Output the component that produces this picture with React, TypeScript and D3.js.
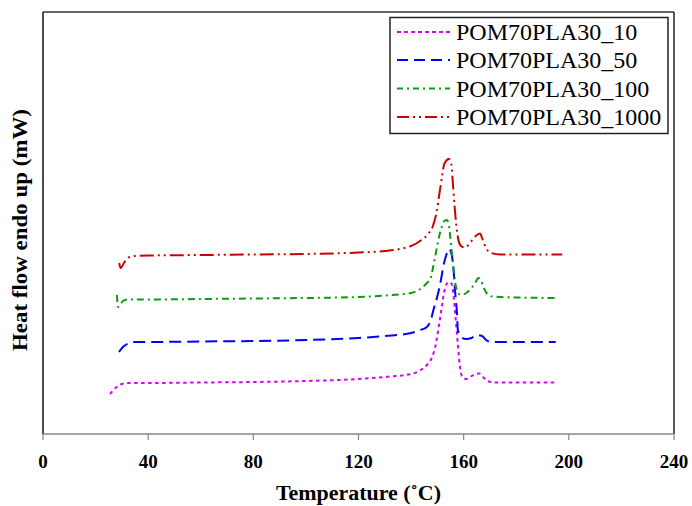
import React from "react";
import * as d3 from "d3";

const xTicks = [0, 40, 80, 120, 160, 200, 240];
const seriesNames = ["POM70PLA30_10", "POM70PLA30_50", "POM70PLA30_100", "POM70PLA30_1000"];

const temp10 = [25.5, 28, 30, 33, 40, 60, 80, 100, 120, 130, 140, 143, 146, 148, 149.5, 150.5, 151.5, 152.5, 153.5, 154.5, 155.5, 156.2, 157, 157.8, 158.5, 159.5, 161, 162.5, 164.5, 166, 167, 169, 172, 185, 195.5];
const heat10 = [4.0, 4.7, 5.0, 5.1, 5.1, 5.15, 5.2, 5.3, 5.5, 5.7, 6.0, 6.3, 6.9, 7.7, 9.1, 10.7, 12.4, 14.1, 15.0, 15.2, 15.0, 13.7, 11.4, 8.9, 6.9, 5.7, 5.5, 5.7, 6.0, 6.05, 5.8, 5.3, 5.15, 5.15, 5.15];

const temp50 = [28.9, 30.4, 32, 34.3, 40, 60, 80, 100, 120, 130, 140, 143.5, 146, 147.5, 148.5, 150.3, 151.5, 152.2, 153.4, 154.5, 155.3, 156, 156.7, 157.5, 157.8, 159, 161, 163, 165, 167, 168.5, 170.5, 180, 195];
const heat50 = [8.2, 8.7, 9.0, 9.2, 9.2, 9.25, 9.3, 9.4, 9.6, 9.8, 10.1, 10.4, 10.7, 11.4, 12.4, 14.1, 15.6, 16.7, 17.9, 18.5, 18.1, 16.9, 14.4, 11.9, 10.4, 9.7, 9.5, 9.6, 9.9, 9.8, 9.4, 9.2, 9.2, 9.2];

const temp100 = [28.1, 28.6, 30.4, 32.3, 40, 60, 80, 100, 120, 130, 140, 144, 146, 147.5, 148.3, 149.5, 150.7, 151.8, 152.6, 153.6, 154.3, 154.9, 155.5, 156.2, 156.8, 157.7, 159, 161, 163, 164.8, 165.5, 166.5, 167.5, 169, 171, 180, 195];
const heat100 = [13.9, 12.7, 13.3, 13.45, 13.45, 13.5, 13.55, 13.6, 13.7, 13.85, 14.1, 14.6, 15.1, 15.6, 16.6, 18.2, 19.8, 20.8, 21.3, 21.4, 21.0, 19.7, 18.1, 16.4, 15.1, 14.2, 13.9, 14.1, 14.6, 15.3, 15.6, 15.4, 14.7, 14.0, 13.75, 13.65, 13.6];

const temp1000 = [29.0, 29.5, 31.0, 32.5, 35, 40, 60, 80, 100, 120, 130, 140, 144, 146.5, 148.3, 149.7, 150.7, 151.8, 152.5, 153.6, 154.4, 155.3, 155.8, 156.5, 157.2, 158, 159, 160.5, 163, 165, 166.3, 167, 168.5, 170.5, 174, 185, 197.5];
const heat1000 = [17.1, 16.6, 17.2, 17.65, 17.8, 17.85, 17.9, 17.95, 18.0, 18.15, 18.3, 18.8, 19.4, 20.0, 20.8, 22.2, 23.9, 25.8, 26.9, 27.4, 27.5, 27.0, 25.4, 22.9, 20.9, 19.4, 18.8, 18.65, 19.3, 19.9, 20.05, 19.6, 18.6, 18.1, 17.95, 17.95, 17.95];

const W = 692, H = 506;
const left = 43, right = 674, top = 12, bottom = 434;

const styles = [
  { color: "#D800FF", dash: "3.5,3.5", legendDash: "4,3" },
  { color: "#0000FF", dash: "12,6", legendDash: "11,6" },
  { color: "#109A10", dash: "7,4,2,4", legendDash: "6,4,2,4" },
  { color: "#CC0000", dash: "14,4,2,4,2,4", legendDash: "12,4,2,4,2,4" },
];

export default function App() {
  const x = d3.scaleLinear().domain([0, 240]).range([left, right]);
  const y = d3.scaleLinear().domain([0, 42.2]).range([bottom, top]);
  const line = d3
    .line<[number, number]>()
    .x((d) => x(d[0]))
    .y((d) => y(d[1]))
    .curve(d3.curveMonotoneX);

  const data: [number, number][][] = [
    temp10.map((t, i) => [t, heat10[i]] as [number, number]),
    temp50.map((t, i) => [t, heat50[i]] as [number, number]),
    temp100.map((t, i) => [t, heat100[i]] as [number, number]),
    temp1000.map((t, i) => [t, heat1000[i]] as [number, number]),
  ];

  const serif = "'Liberation Serif', 'Times New Roman', serif";
  const legX0 = 397, legX1 = 450;
  const legRows = [32, 60, 88.5, 117];

  return (
    <svg width={W} height={H} style={{ position: "absolute", left: 0, top: 0, background: "#fff" }}>
      <rect x={0} y={0} width={W} height={H} fill="#fff" />
      <line x1={left} y1={top} x2={right} y2={top} stroke="#333" strokeWidth={1.5} />
      <line x1={left} y1={top} x2={left} y2={bottom} stroke="#111" strokeWidth={1.5} />
      <line x1={right} y1={top} x2={right} y2={bottom} stroke="#222" strokeWidth={1.5} />
      <line x1={left} y1={bottom} x2={right} y2={bottom} stroke="#888" strokeWidth={1.5} />
      {xTicks.map((t) => (
        <g key={t}>
          <line x1={x(t)} x2={x(t)} y1={bottom} y2={bottom + 6} stroke="#888" strokeWidth={1.2} />
          <text x={x(t)} y={468} textAnchor="middle" fontFamily={serif} fontWeight="bold" fontSize={19} fill="#000">
            {t}
          </text>
        </g>
      ))}
      <text x={(left + right) / 2} y={500} textAnchor="middle" fontFamily={serif} fontWeight="bold" fontSize={20} fill="#000" textLength={165} lengthAdjust="spacingAndGlyphs">
        Temperature (˚C)
      </text>
      <text
        transform={`translate(27,230) rotate(-90)`}
        textAnchor="middle"
        fontFamily={serif}
        fontWeight="bold"
        fontSize={20}
        fill="#000"
        textLength={242}
        lengthAdjust="spacingAndGlyphs"
      >
        Heat flow endo up (mW)
      </text>
      {data.map((d, i) => (
        <path key={i} d={line(d) || ""} fill="none" stroke={styles[i].color} strokeWidth={2} strokeDasharray={styles[i].dash} />
      ))}
      <rect x={390} y={17.5} width={278} height={116} fill="#fff" stroke="#222" strokeWidth={1.5} />
      {seriesNames.map((n, i) => (
        <g key={n}>
          <line x1={legX0} x2={legX1} y1={legRows[i]} y2={legRows[i]} stroke={styles[i].color} strokeWidth={2} strokeDasharray={styles[i].legendDash} />
          <text x={456} y={legRows[i] + 8} fontFamily={serif} fontSize={24} fill="#000">
            {n}
          </text>
        </g>
      ))}
    </svg>
  );
}
